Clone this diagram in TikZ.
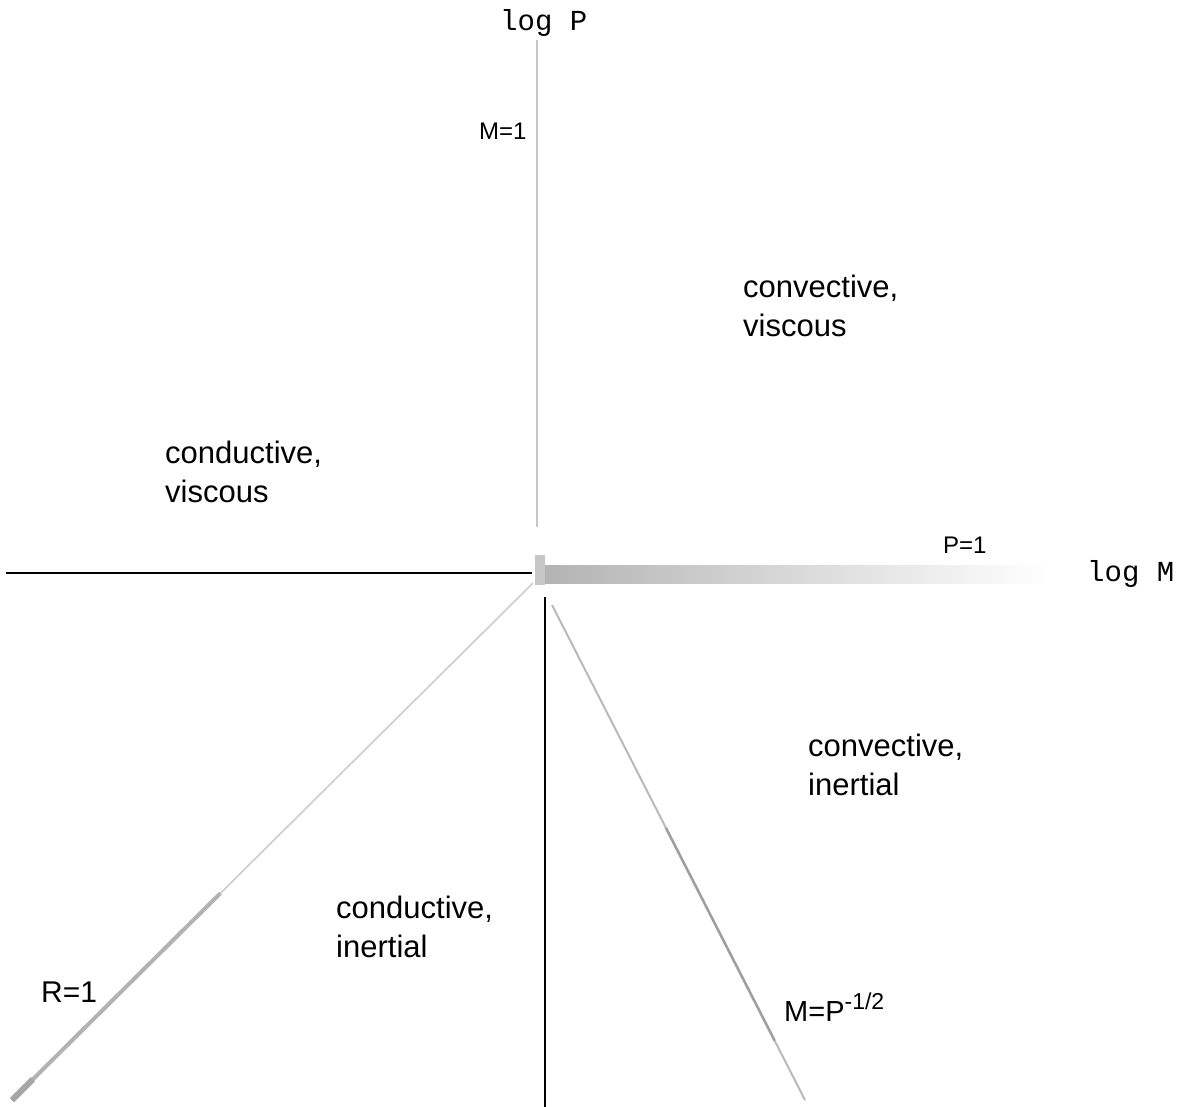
\documentclass[tikz,border=0pt]{standalone}
\usepackage{fontspec}
\usetikzlibrary{calc}
\setmainfont{Liberation Sans}
\newfontfamily\axisfont{Liberation Mono}
\begin{document}
\begin{tikzpicture}[x=1pt,y=-1pt,
  region/.style={anchor=base west,inner sep=0pt,align=left,
    font=\fontsize{31}{39}\selectfont},
  tag/.style={anchor=base west,inner sep=0pt,font=\fontsize{24}{28}\selectfont},
  axislabel/.style={anchor=base west,inner sep=0pt,font=\axisfont\fontsize{29}{32}\selectfont},
  boundary/.style={draw=gray!45,line width=2.5pt},
  solidline/.style={draw=black,line width=2.4pt}]
\useasboundingbox (0,0) rectangle (1190,1107);

% key points of the diagram
\coordinate (top) at (537,40);
\coordinate (vend) at (537,527);
\coordinate (west) at (6,573);
\coordinate (ctr) at (532,573);
\coordinate (lowtop) at (545,597);
\coordinate (lowbot) at (545,1107);
\coordinate (rstart) at (533,583);
\coordinate (rend) at (12,1100);
\coordinate (mstart) at (552,605);
\coordinate (mend) at (805,1100);

% M = 1 : faint vertical axis
\draw[boundary] (top) -- (vend);
% conductive/convective divide, left black line
\draw[solidline,line width=2.6pt] (west) -- (ctr);
% P = 1 : wide fading band along the log M axis
\shade[left color=gray!60,right color=white,draw=none]
  (540,565) rectangle (1050,583);
\fill[gray!45] (535,555) rectangle (545,585);
% lower black vertical line
\draw[solidline] (lowtop) -- (lowbot);
% R = 1 line, thickening towards its lower end
\draw[draw=gray!40,line width=1.6pt] (rstart) -- (rend);
\draw[draw=gray!60,line width=4pt] ($(rstart)!0.6!(rend)$) -- (rend);
\draw[draw=gray!70,line width=6pt] ($(rstart)!0.96!(rend)$) -- (rend);
% M = P^{-1/2} line
\draw[draw=gray!55,line width=2pt] (mstart) -- (mend);
\draw[draw=gray!75,line width=2.5pt] ($(mstart)!0.45!(mend)$) -- ($(mstart)!0.88!(mend)$);

% axis labels
\node[axislabel] (lp) at (500,31) {log P};
\node[axislabel] (lm) at (1087,581) {log M};

% boundary labels
\node[tag] (m1) at (479,140) {M=1};
\node[tag,font=\fontsize{24}{28}\selectfont] (p1) at (943,553) {P=1};
\node[tag,font=\fontsize{30}{34}\selectfont] (r1) at (41,1002) {R=1};
\node[tag,font=\fontsize{29}{34}\selectfont] (mp) at (784,1021)
  {M=P\raisebox{12pt}{\fontsize{23}{26}\selectfont -1/2}};

% regime labels
\node[region] (cvv) at (743,336) {convective,\\viscous};
\node[region] (cdv) at (165,502) {conductive,\\viscous};
\node[region] (cvi) at (808,795) {convective,\\inertial};
\node[region] (cdi) at (336,957) {conductive,\\inertial};
\end{tikzpicture}
\end{document}
